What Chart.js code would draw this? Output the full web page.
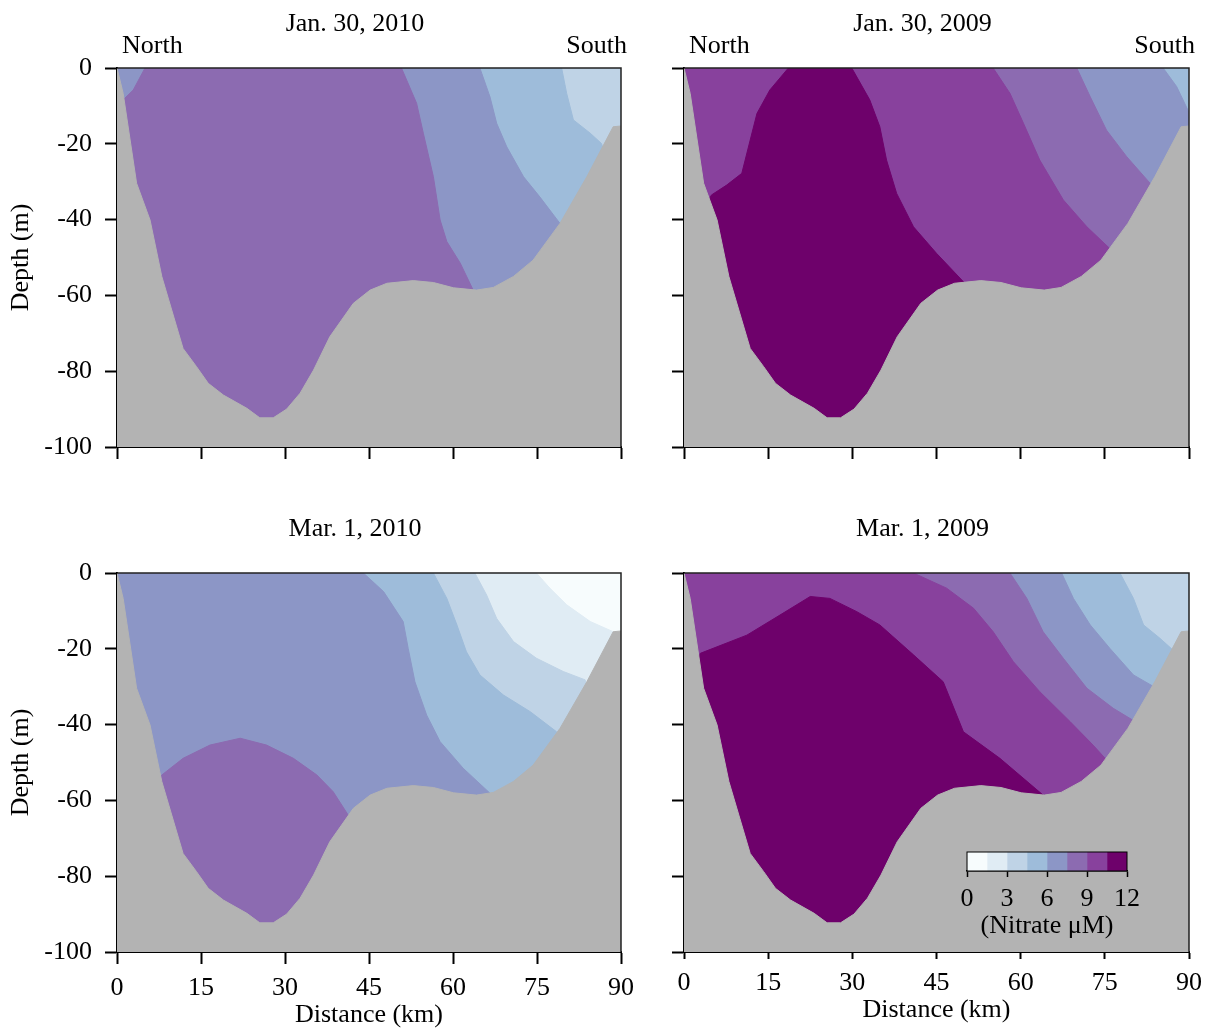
<!DOCTYPE html>
<html>
<head>
<meta charset="utf-8">
<title>Nitrate sections</title>
<script src="https://cdn.jsdelivr.net/npm/chart.js@4.4.1/dist/chart.umd.min.js"></script>
<style>
  html, body { margin: 0; padding: 0; background: #fff; }
  #page { position: relative; width: 1209px; height: 1035px; overflow: hidden; }
  #page canvas { position: absolute; }
</style>
</head>
<body>
<div id="page">
  <canvas id="jan10" width="643" height="500" style="left:0;top:0"></canvas>
  <canvas id="jan09" width="644" height="500" style="left:567px;top:0"></canvas>
  <canvas id="mar10" width="643" height="530" style="left:0;top:505px"></canvas>
  <canvas id="mar09" width="644" height="530" style="left:567px;top:505px"></canvas>
  <canvas id="scale" width="300" height="120" style="left:900px;top:830px"></canvas>
</div>
<script>
const SERIF = "'Liberation Serif', 'Times New Roman', Times, serif";
Chart.defaults.font.family = SERIF;
Chart.defaults.font.size = 26;
Chart.defaults.color = '#000';

// axes
const distanceTicks = [0, 15, 30, 45, 60, 75, 90];
const depthTicks = [0, -20, -40, -60, -80, -100];
const colorbarTicks = [0, 3, 6, 9, 12];

// nitrate classes (uM) and their colours
const nitrateLevels = [0, 1.5, 3, 4.5, 6, 7.5, 9, 10.5, 12];
const nitrateColors = ['#f7fcfd', '#e0ecf4', '#bfd3e6', '#9ebcda', '#8c96c6', '#8c6bb1', '#88419d', '#6e016b'];
const seafloorColor = '#b3b3b3';

// bottom profile along the section (km, m)
const seafloorKm = [0, 1.1, 3.5, 5.9, 8.0, 11.8, 14.2, 16.3, 19.0, 23.2, 25.5, 27.9, 30.3, 32.7, 35.1, 38.0, 42.2, 45.2, 48.2, 52.9, 56.5, 60.1, 64.2, 67.2, 70.8, 74.3, 79.1, 83.9, 88.6, 90];
const seafloorDepth = [0, -6.7, -30.4, -40.1, -55.0, -74.0, -78.8, -83.2, -86.3, -89.8, -92.3, -92.3, -90.0, -85.8, -79.7, -70.9, -62.1, -58.6, -56.8, -56.1, -56.6, -58.0, -58.6, -57.9, -55.0, -50.7, -41.0, -28.7, -15.5, -15.3];

// isolines [km, depth]; higher nitrate lies on the north / deep side
const jan10Iso45 = [[79.4, 0], [80.3, -6.7], [81.5, -13.7], [84.5, -17.2], [86.5, -19.9], [87.5, -24]];
const jan10Iso6 = [[64.8, 0], [66.6, -7.6], [67.8, -14.6], [69.6, -20.8], [72.6, -28.7], [75.5, -34], [79.1, -41], [79.5, -45]];
const jan10Iso75 = [[1.1, -8.4], [2.9, -5.8], [5.0, 0], [50.8, 0], [53.5, -9.3], [54.7, -17.2], [56.5, -28.7], [57.7, -40.1], [58.9, -45.8], [61.3, -51.5], [63.6, -58.6], [64, -62]];

const jan09Iso6 = [[85.4, 0], [87.8, -4.9], [89.9, -11.4], [90, -20]];
const jan09Iso75 = [[70.0, 0], [72.4, -7.6], [75.3, -16.4], [78.9, -23.4], [83.6, -31.3], [84, -34]];
const jan09Iso9 = [[55.1, 0], [58.1, -6.7], [60.5, -14.6], [63.4, -24.3], [67.6, -34.8], [71.8, -41.9], [76.5, -48.5]];
const jan09Iso105 = [[4.0, -36], [4.9, -33.5], [7.6, -30.9], [10.3, -27.8], [11.8, -19], [13.0, -12], [15.3, -5.8], [18.6, 0], [29.9, 0], [33.1, -8.4], [34.9, -15.5], [36.1, -24.3], [37.9, -33.1], [40.9, -41.9], [45.0, -48.9], [49.8, -56.4], [50, -60]];

const mar10Iso15 = [[74.9, 0], [77.3, -4.0], [80.3, -8.4], [84.5, -12.8], [88.6, -15.5], [90, -25]];
const mar10Iso3 = [[63.9, 0], [66.0, -5.8], [67.8, -12.0], [70.8, -18.1], [74.9, -22.5], [79.7, -26.0], [83.6, -28.2], [84, -32]];
const mar10Iso45 = [[56.5, 0], [58.9, -6.7], [60.7, -13.7], [62.4, -20.8], [64.8, -26.9], [69.0, -32.2], [73.8, -36.6], [78.5, -41.9], [79, -45]];
const mar10Iso6 = [[44.0, 0], [47.6, -4.9], [51.1, -12.8], [52.0, -19.9], [53.2, -28.7], [55.3, -37.5], [57.7, -44.5], [61.8, -51.5], [66.6, -58.1], [67, -62]];
const mar10Iso75 = [[7.5, -56], [8.0, -53.3], [11.8, -48.9], [16.6, -45.4], [22.0, -43.6], [26.7, -45.4], [31.5, -48.9], [35.7, -53.3], [38.6, -57.7], [41.3, -63.9], [41.5, -68]];

const mar09Iso45 = [[77.7, 0], [80.1, -6.7], [81.9, -13.7], [84.8, -17.2], [87.5, -20.8], [88, -24]];
const mar09Iso6 = [[67.3, 0], [69.4, -6.7], [72.4, -13.7], [75.9, -19.9], [80.1, -26.9], [84.2, -30.4], [84.5, -33]];
const mar09Iso75 = [[58.1, 0], [61.1, -6.7], [64.0, -15.5], [67.6, -22.5], [71.8, -30.4], [76.5, -35.7], [80.4, -39.2], [80.6, -42]];
const mar09Iso9 = [[40.9, 0], [46.8, -4.0], [51.6, -9.3], [55.1, -15.5], [58.7, -23.4], [63.4, -31.3], [68.8, -39.2], [72.9, -45.4], [75.6, -49.8], [76, -52]];
const mar09Iso105 = [[2.5, -24], [2.9, -21.2], [11.2, -16.4], [17.1, -11.1], [22.5, -6.2], [26.0, -6.7], [30.8, -10.2], [34.9, -13.7], [40.9, -21.6], [46.2, -28.7], [49.8, -41.9], [56.3, -48.9], [64.0, -58.6], [64.2, -62]];

const panels = [
  { id: 'jan10', title: 'Jan. 30, 2010', ends: true, base: 3, isolines: [[4.5, jan10Iso45], [6, jan10Iso6], [7.5, jan10Iso75]],
    yLabels: true, xLabels: false, xHeight: 53, xTick: 12, xTitlePad: 0 },
  { id: 'jan09', title: 'Jan. 30, 2009', ends: true, base: 4.5, isolines: [[6, jan09Iso6], [7.5, jan09Iso75], [9, jan09Iso9], [10.5, jan09Iso105]],
    yLabels: false, xLabels: false, xHeight: 53, xTick: 12, xTitlePad: 0 },
  { id: 'mar10', title: 'Mar. 1, 2010', ends: false, base: 0, isolines: [[1.5, mar10Iso15], [3, mar10Iso3], [4.5, mar10Iso45], [6, mar10Iso6], [7.5, mar10Iso75]],
    yLabels: true, xLabels: true, xHeight: 83, xTick: 12, xTitlePad: 4 },
  { id: 'mar09', title: 'Mar. 1, 2009', ends: false, base: 3, isolines: [[4.5, mar09Iso45], [6, mar09Iso6], [7.5, mar09Iso75], [9, mar09Iso9], [10.5, mar09Iso105]],
    yLabels: false, xLabels: true, xHeight: 83, xTick: 7, xTitlePad: 9 }
];

const bandColor = v => nitrateColors[nitrateLevels.indexOf(v)];

// region on the high-nitrate side of an isoline, closed underneath the seafloor
function closeIsoline(line) {
  const first = line[0];
  const last = line[line.length - 1];
  const pts = line.map(([x, y]) => ({ x, y }));
  pts.push({ x: last[0], y: -100 });
  if (first[1] === 0) {
    pts.push({ x: 0, y: -100 }, { x: 0, y: 0 });
  } else {
    pts.push({ x: first[0], y: -100 });
  }
  pts.push({ x: first[0], y: first[1] });
  return pts;
}

function layer(points, color) {
  return {
    data: points,
    showLine: true,
    fill: 'shape',
    backgroundColor: color,
    borderColor: color,
    borderWidth: 1,
    pointRadius: 0
  };
}

const framePlugin = {
  id: 'panelFrame',
  afterDraw(chart, args, o) {
    const { ctx, chartArea: a } = chart;
    ctx.save();
    ctx.strokeStyle = '#222';
    ctx.lineWidth = 1.5;
    ctx.beginPath();
    ctx.moveTo(a.left, a.top);
    ctx.lineTo(a.right, a.top);
    ctx.lineTo(a.right, a.bottom);
    ctx.stroke();
    ctx.fillStyle = '#000';
    ctx.font = '26px ' + SERIF;
    ctx.textBaseline = 'middle';
    ctx.textAlign = 'center';
    ctx.fillText(o.title, (a.left + a.right) / 2 - 14, a.top - 44);
    if (o.ends) {
      ctx.textAlign = 'left';
      ctx.fillText('North', a.left + 5, a.top - 22);
      ctx.textAlign = 'right';
      ctx.fillText('South', a.right + 6, a.top - 22);
    }
    ctx.restore();
  }
};

panels.forEach(p => {
  const layers = [layer([{ x: 0, y: 0 }, { x: 90, y: 0 }, { x: 90, y: -100 }, { x: 0, y: -100 }, { x: 0, y: 0 }], bandColor(p.base))];
  p.isolines.forEach(([level, line]) => layers.push(layer(closeIsoline(line), bandColor(level))));
  const floor = seafloorKm.map((x, i) => ({ x, y: seafloorDepth[i] }));
  floor.push({ x: 90, y: -100 }, { x: 0, y: -100 }, { x: 0, y: 0 });
  layers.push(layer(floor, seafloorColor));
  // painter order: first layer at the back
  layers.forEach((d, i) => { d.order = layers.length - i; });

  new Chart(document.getElementById(p.id), {
    type: 'scatter',
    data: { datasets: layers },
    options: {
      responsive: false,
      animation: false,
      events: [],
      layout: { padding: { top: 68, right: 22, left: 0, bottom: 0 } },
      plugins: {
        legend: { display: false },
        tooltip: { enabled: false },
        panelFrame: { title: p.title, ends: p.ends }
      },
      scales: {
        x: {
          type: 'linear', min: 0, max: 90, z: 1,
          afterBuildTicks: s => { s.ticks = distanceTicks.map(v => ({ value: v })); },
          afterFit: s => { s.height = p.xHeight; },
          grid: { drawOnChartArea: false, drawTicks: true, tickLength: p.xTick, tickWidth: 2, tickColor: '#000' },
          border: { display: true, color: '#000', width: 2 },
          ticks: { color: p.xLabels ? '#000' : 'rgba(0,0,0,0)', padding: 9, autoSkip: false, maxRotation: 0 },
          title: { display: p.xLabels, text: 'Distance (km)', color: '#000', padding: { top: 0, bottom: p.xTitlePad } }
        },
        y: {
          type: 'linear', min: -100, max: 0, z: 1,
          afterBuildTicks: s => { s.ticks = depthTicks.map(v => ({ value: v })); },
          afterFit: s => { s.width = 117; },
          grid: { drawOnChartArea: false, drawTicks: true, tickLength: 12, tickWidth: 2, tickColor: '#000' },
          border: { display: true, color: '#000', width: 2 },
          ticks: { color: p.yLabels ? '#000' : 'rgba(0,0,0,0)', padding: 13, autoSkip: false },
          title: { display: p.yLabels, text: 'Depth (m)', color: '#000', padding: { top: 6, bottom: 0 } }
        }
      }
    },
    plugins: [framePlugin]
  });
});

// colour key
const keyFrame = {
  id: 'keyFrame',
  afterDatasetsDraw(chart) {
    const { ctx, chartArea: a } = chart;
    ctx.save();
    ctx.strokeStyle = '#000';
    ctx.lineWidth = 1;
    ctx.strokeRect(a.left, a.top, a.right - a.left, a.bottom - a.top);
    ctx.restore();
  }
};

new Chart(document.getElementById('scale'), {
  type: 'bar',
  data: {
    labels: ['nitrate'],
    datasets: nitrateColors.map((c, i) => ({
      data: [[nitrateLevels[i], nitrateLevels[i + 1]]],
      backgroundColor: c,
      borderWidth: 0,
      grouped: false,
      barPercentage: 1,
      categoryPercentage: 1
    }))
  },
  options: {
    indexAxis: 'y',
    responsive: false,
    animation: false,
    events: [],
    layout: { padding: { left: 67, right: 73, top: 22, bottom: 0 } },
    plugins: { legend: { display: false }, tooltip: { enabled: false } },
    scales: {
      x: {
        type: 'linear', min: 0, max: 12, z: 1,
        afterBuildTicks: s => { s.ticks = colorbarTicks.map(v => ({ value: v })); },
        afterFit: s => { s.height = 79; },
        grid: { drawOnChartArea: false, drawTicks: true, tickLength: 6, tickWidth: 1.5, tickColor: '#000' },
        border: { display: true, color: '#000', width: 1.5 },
        ticks: { padding: 7, autoSkip: false, maxRotation: 0 },
        title: { display: true, text: '(Nitrate μM)', color: '#000', padding: { top: 0, bottom: 8 } }
      },
      y: { display: false }
    }
  },
  plugins: [keyFrame]
});
</script>
</body>
</html>
